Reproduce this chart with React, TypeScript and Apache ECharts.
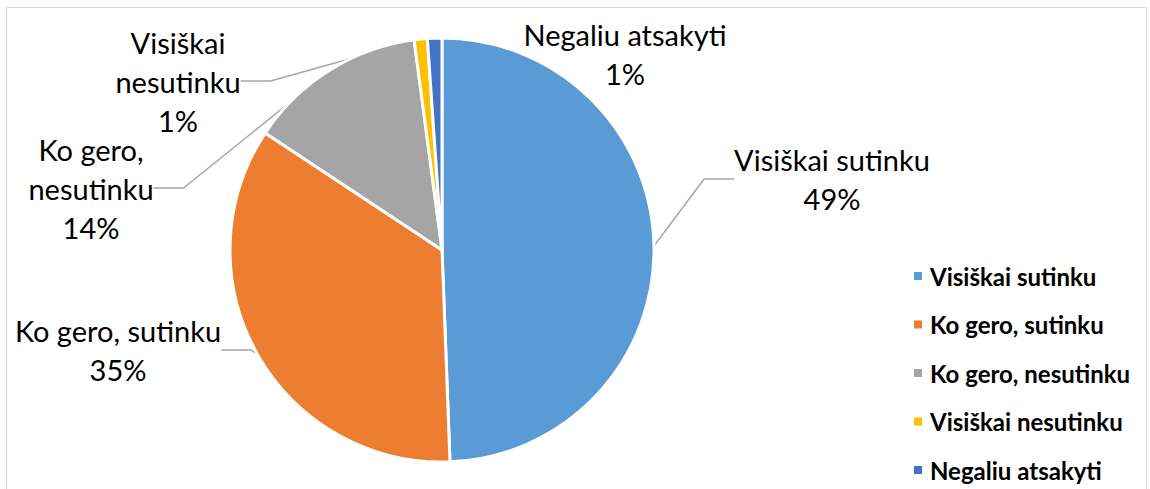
import React, { useEffect, useRef } from "react";
import * as echarts from "echarts";

const categories = [
  "Visiškai sutinku",
  "Ko gero, sutinku",
  "Ko gero, nesutinku",
  "Visiškai nesutinku",
  "Negaliu atsakyti",
];
const values = [49.4, 34.9, 13.6, 1.0, 1.1];
const labelTexts = [
  "Visiškai sutinku\n{d}%",
  "Ko gero, sutinku\n{d}%",
  "Ko gero,\nnesutinku\n{d}%",
  "Visiškai\nnesutinku\n{d}%",
  "Negaliu atsakyti\n{d}%",
];
const colors = ["#5B9BD5", "#ED7D31", "#A5A5A5", "#FFC000", "#4472C4"];
// label block centres (layout only)
const labelCenters = [
  [832, 179],
  [118, 350],
  [91, 188],
  [178, 81],
  [625, 54],
];

export default function App() {
  const ref = useRef<HTMLDivElement>(null);
  useEffect(() => {
    const chart = echarts.init(ref.current!, null, { renderer: "svg" });
    chart.setOption({
      animation: false,
      backgroundColor: "#ffffff",
      graphic: [
        {
          type: "rect",
          shape: { x: 6.5, y: 7.5, width: 1140, height: 500 },
          style: { fill: "none", stroke: "#D9D9D9", lineWidth: 1 },
          silent: true,
        },
      ],
      legend: {
        orient: "vertical",
        left: 907,
        top: 259,
        itemGap: 24.5,
        itemWidth: 10,
        itemHeight: 10,
        icon: "rect",
        data: categories,
        textStyle: {
          fontFamily: "Lato",
          fontWeight: "bold",
          fontSize: 24,
          color: "#000000",
          padding: [0, 0, 0, 2],
        },
      },
      series: [
        {
          type: "pie",
          center: [442, 250],
          radius: [0, 212],
          startAngle: 90,
          clockwise: true,
          avoidLabelOverlap: false,
          percentPrecision: 0,
          itemStyle: { borderColor: "#ffffff", borderWidth: 3 },
          label: {
            show: true,
            position: "outside",
            fontFamily: "Lato",
            fontSize: 29,
            lineHeight: 39,
            color: "#000000",
            align: "center",
          },
          labelLine: {
            show: true,
            lineStyle: { color: "#A6A6A6", width: 1.5 },
          },
          labelLayout: (params: any) => {
            const c = labelCenters[params.dataIndex];
            return {
              x: c[0],
              y: c[1],
              align: "center",
              verticalAlign: "middle",
            };
          },
          data: categories.map((name, i) => ({
            name,
            value: values[i],
            itemStyle: { color: colors[i] },
            label: { formatter: labelTexts[i] },
            labelLine: { show: i !== 4 },
          })),
        },
      ],
    });
    return () => chart.dispose();
  }, []);
  return (
    <div
      ref={ref}
      style={{ position: "absolute", left: 0, top: 0, width: 1150, height: 489 }}
    />
  );
}
